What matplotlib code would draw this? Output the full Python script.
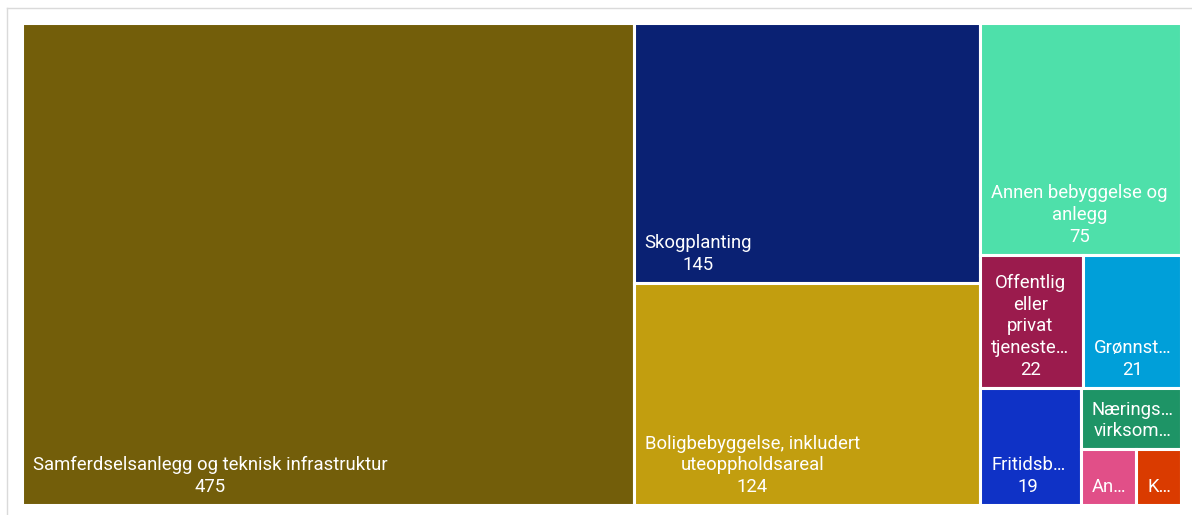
import matplotlib
matplotlib.use("Agg")
import matplotlib.pyplot as plt
from matplotlib.patches import Rectangle
from matplotlib.lines import Line2D

# data (value per land-use category)
labels = ['Samferdselsanlegg og teknisk infrastruktur', 'Skogplanting',
          'Boligbebyggelse, inkludert\nuteoppholdsareal',
          'Annen bebyggelse og\nanlegg', 'Offentlig\neller\nprivat\ntjeneste…',
          'Grønnst…', 'Fritidsb…', 'Nærings…\nvirksom…', 'An…', 'K…']
values = [475, 145, 124, 75, 22, 21, 19, 10, 5, 4]
show_value = [True, True, True, True, True, True, True, False, False, False]
colors = ['#735e0a', '#0a2173', '#c29e0f', '#4ee0aa', '#9b1b4d',
          '#009fd9', '#0f32c6', '#1e9466', '#e14f88', '#da3b00']


# squarified treemap layout
def layout_row(sizes, x, y, dx, dy):
    width = sum(sizes) / dy
    rects = []
    for s in sizes:
        rects.append((x, y, width, s / width))
        y += s / width
    return rects


def layout_col(sizes, x, y, dx, dy):
    height = sum(sizes) / dx
    rects = []
    for s in sizes:
        rects.append((x, y, s / height, height))
        x += s / height
    return rects


def layout(sizes, x, y, dx, dy):
    if dx >= dy:
        return layout_row(sizes, x, y, dx, dy)
    return layout_col(sizes, x, y, dx, dy)


def leftover(sizes, x, y, dx, dy):
    if dx >= dy:
        w = sum(sizes) / dy
        return x + w, y, dx - w, dy
    h = sum(sizes) / dx
    return x, y + h, dx, dy - h


def worst(sizes, x, y, dx, dy):
    return max(max(r[2] / r[3], r[3] / r[2]) for r in layout(sizes, x, y, dx, dy))


def squarify(sizes, x, y, dx, dy):
    if len(sizes) == 0:
        return []
    if len(sizes) == 1:
        return layout(sizes, x, y, dx, dy)
    i = 1
    while i < len(sizes) and worst(sizes[:i], x, y, dx, dy) >= worst(sizes[:i + 1], x, y, dx, dy):
        i += 1
    nx, ny, ndx, ndy = leftover(sizes[:i], x, y, dx, dy)
    return layout(sizes[:i], x, y, dx, dy) + squarify(sizes[i:], nx, ny, ndx, ndy)


W, H = 1159, 482
scale = W * H / sum(values)
rects = squarify([v * scale for v in values], 0, 0, W, H)

fig = plt.figure(figsize=(11.92, 5.15), dpi=100)
ax = fig.add_axes([22 / 1192, 10 / 515, W / 1192, H / 515])
ax.set_xlim(0, W)
ax.set_ylim(H, 0)
ax.axis('off')

# light frame around the chart card
fig.add_artist(Line2D([6.5 / 1192, 1.0], [1 - 7.5 / 515, 1 - 7.5 / 515], color='#dadada', lw=1))
fig.add_artist(Line2D([6.5 / 1192, 6.5 / 1192], [1 - 7.5 / 515, 0], color='#dadada', lw=1))

for (x, y, w, h), lab, val, show, c in zip(rects, labels, values, show_value, colors):
    ax.add_patch(Rectangle((x, y), w, h, facecolor=c, edgecolor='white', lw=2.2, clip_on=False))
    txt = f'{lab}\n{val}' if show else lab
    ax.text(x + 11, y + h - 9, txt, ha='left', va='bottom', multialignment='center',
            color='white', fontsize=13.3, family='Roboto', linespacing=1.26)

fig.savefig('out.png', dpi=100)
